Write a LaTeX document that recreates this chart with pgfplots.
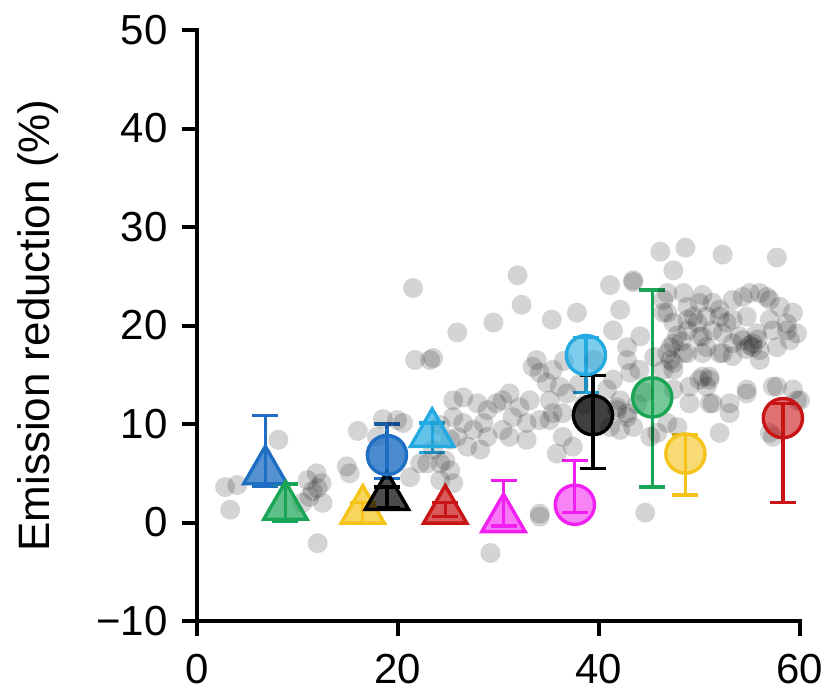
\documentclass[border=0pt]{standalone}
\usepackage{pgfplots}
\pgfplotsset{compat=1.18}
\usepackage{fontspec}
\setmainfont{Liberation Sans}

\definecolor{cblue}{RGB}{30,110,195}
\definecolor{cgreen}{RGB}{25,165,85}
\definecolor{cyellow}{RGB}{245,195,25}
\definecolor{ccyan}{RGB}{35,170,225}
\definecolor{cred}{RGB}{200,20,20}
\definecolor{cmag}{RGB}{240,30,240}

% grey cloud of individual points
\pgfplotstableread{
x y
2.8 3.6
4.0 3.8
3.3 1.3
8.1 8.4
11.9 5.0
12.4 4.0
11.2 2.6
10.5 2.0
12.5 2.0
11.5 3.2
12.0 3.5
11.0 4.3
12.0 -2.1
15.2 5.0
14.9 5.7
21.5 23.8
21.7 16.5
23.2 16.5
19.9 10.4
20.5 10.1
17.9 8.7
18.5 10.5
16.0 9.3
21.2 4.6
22.2 6.0
31.9 25.1
32.3 22.1
29.5 20.3
25.9 19.3
23.5 16.7
35.3 20.6
37.8 21.3
41.1 24.1
43.4 24.6
42.1 21.6
41.4 19.5
33.8 16.5
33.4 15.8
35.4 15.5
36.1 13.8
34.8 14.2
31.1 13.1
30.4 12.4
29.8 12.1
32.1 11.7
33.1 12.4
31.4 10.7
32.8 10.1
34.1 10.4
35.1 10.4
36.4 11.1
25.5 12.4
26.5 12.7
27.9 12.1
28.9 11.4
25.5 10.7
26.5 10.1
27.5 9.4
28.5 10.1
28.9 8.7
25.9 8.7
26.9 7.7
28.2 7.4
30.4 9.4
31.1 8.7
32.8 8.4
22.9 6.0
24.2 6.0
25.2 5.3
24.2 4.3
25.5 4.0
23.5 7.4
24.7 6.3
25.2 8.4
24.2 9.9
35.8 7.0
36.4 8.7
34.1 0.6
29.2 -3.1
42.1 12.4
41.8 11.4
42.8 10.7
42.1 9.4
43.4 9.7
34.1 15.2
42.8 16.5
43.1 15.2
42.8 17.8
44.1 18.9
46.8 21.3
47.4 20.3
48.4 23.3
50.0 22.3
46.8 23.3
47.1 17.8
47.1 16.5
47.4 15.5
48.8 17.2
49.8 20.3
50.7 20.9
52.0 21.6
53.3 22.6
55.0 23.3
56.7 22.9
58.0 21.9
59.3 21.3
58.7 19.5
57.3 19.5
55.7 19.2
55.3 17.8
54.0 18.9
53.3 18.2
52.7 20.3
51.3 19.5
50.0 18.9
49.4 20.9
50.7 17.8
52.3 17.2
51.0 14.8
50.0 14.5
50.7 13.8
53.0 12.1
54.7 13.5
51.3 12.1
49.0 12.1
47.4 13.5
47.8 9.7
46.8 10.1
45.1 8.7
52.0 9.1
57.3 13.8
59.3 13.5
59.7 12.4
57.0 9.1
44.6 1.0
41.1 9.7
41.8 11.7
42.8 11.1
40.8 13.5
41.4 14.5
36.8 13.1
35.1 12.4
35.4 11.1
37.4 7.7
34.1 0.9
46.1 27.5
48.6 27.9
52.3 27.2
57.7 26.9
47.4 25.6
43.4 24.4
46.4 22.6
48.8 21.9
50.3 23.1
51.3 22.3
54.3 22.9
56.0 23.3
57.0 22.6
46.4 21.3
48.8 20.6
52.0 20.9
53.3 20.6
54.7 20.9
57.0 20.6
58.7 20.2
59.7 19.2
47.4 18.2
48.8 19.5
50.3 18.9
52.3 19.2
54.3 18.5
55.3 18.2
56.0 17.5
57.7 17.8
59.0 18.5
55.0 18.0
55.8 18.6
54.6 17.6
47.8 19.0
48.2 18.4
46.8 17.2
48.4 17.2
47.4 16.2
50.3 17.2
52.0 17.2
53.3 16.9
56.0 16.5
46.4 15.5
50.3 14.8
51.0 14.5
49.0 13.8
51.0 12.1
53.0 11.1
54.7 13.1
57.7 13.8
60.0 12.4
57.3 8.7
45.8 9.1
38.0 14.0
39.5 16.5
44.0 15.5
45.5 16.8
44.5 13.2
43.8 12.0
38.5 12.0
36.5 16.4
}\cloud

\pgfplotsset{
  grp/.style={only marks, color=#1,
    error bars/.cd, y dir=both, y explicit,
    error bar style={line width=1.6pt},
    error mark options={rotate=90, mark size=6.5pt, line width=1.6pt}},
  tri/.style={mark=triangle*, mark size=12.5pt,
    mark options={fill opacity=#1, line width=1.7pt}},
  circ/.style={mark=*, mark size=9.8pt,
    mark options={fill opacity=#1, line width=1.7pt}},
}

\begin{document}
\fontsize{21pt}{25pt}\selectfont
\begin{tikzpicture}
\begin{axis}[
  at={(0,0)}, anchor=south west,
  scale only axis, width=301.5pt, height=295.5pt,
  xmin=0, xmax=60, ymin=-10, ymax=50,
  axis x line*=bottom, axis y line*=left,
  axis line style={line width=2pt, line cap=rect},
  xtick={0,20,40,60},
  ytick={-10,0,10,20,30,40,50},
  yticklabels={−10,0,10,20,30,40,50},
  tick align=outside, major tick length=7.5pt,
  tick style={line width=2pt, black},
  /pgf/number format/assume math mode=true,
  ticklabel style={font=\fontsize{21pt}{25pt}\selectfont},
  xticklabel style={yshift=-2pt},
  ylabel={Emission reduction (\%)},
  ylabel style={at={(axis description cs:-0.263,0.5)}, anchor=center,
    font=\fontsize{22pt}{26pt}\selectfont},
  clip=false,
]
\addplot[only marks, mark=*, mark size=5pt,
  mark options={draw opacity=0, fill=black, fill opacity=0.17}] table {\cloud};

% triangles
\addplot[tri=0.75, grp=cblue]   coordinates {(6.8,5.2) += (0,5.7) -= (0,1.5)};
\addplot[tri=0.7, grp=cgreen]   coordinates {(8.8,1.6) += (0,2.3) -= (0,1.5)};
\addplot[tri=0.7, grp=cyellow]  coordinates {(16.5,1.2) += (0,0.8) -= (0,1.3)};
\addplot[tri=0.7, grp=black]    coordinates {(18.9,2.6) += (0,1.0) -= (0,1.1)};
\addplot[circ=0.8, grp=cblue]   coordinates {(18.9,6.85) += (0,3.15) -= (0,2.4)};
\addplot[tri=0.7, grp=ccyan]    coordinates {(23.4,9.0) += (0,1.1) -= (0,1.9)};
\addplot[tri=0.7, grp=cred]     coordinates {(24.7,1.2) += (0,0.8) -= (0,0.6)};
\addplot[tri=0.6, grp=cmag]     coordinates {(30.5,0.35) += (0,3.95) -= (0,0.7)};

% circles
\addplot[circ=0.55, grp=cmag]   coordinates {(37.6,1.8) += (0,4.5) -= (0,0.75)};
\addplot[circ=0.6, grp=ccyan]   coordinates {(38.7,17.0) += (0,1.8) -= (0,3.8)};
\addplot[circ=0.75, grp=black]  coordinates {(39.4,10.9) += (0,4.0) -= (0,5.4)};
\addplot[circ=0.6, grp=cgreen]  coordinates {(45.3,12.7) += (0,10.9) -= (0,9.1)};
\addplot[circ=0.6, grp=cyellow] coordinates {(48.6,7.0) += (0,1.9) -= (0,4.2)};
\addplot[circ=0.6, grp=cred]    coordinates {(58.3,10.6) += (0,1.5) -= (0,8.6)};
\end{axis}
\pgfresetboundingbox
\path (-98.5pt,-35.5pt) rectangle (314pt,310.5pt);
\end{tikzpicture}
\end{document}
